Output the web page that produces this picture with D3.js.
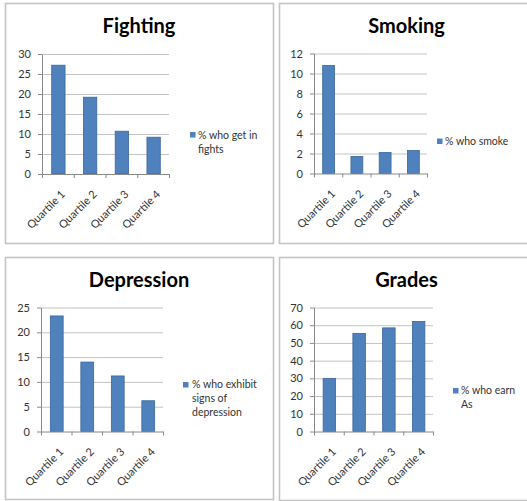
<!DOCTYPE html>
<html>
<head>
<meta charset="utf-8">
<script src="https://cdn.jsdelivr.net/npm/d3@7"></script>
<style>
  html, body { margin: 0; padding: 0; background: #fff; }
  svg { display: block; font-family: Lato, "Open Sans", sans-serif; }
</style>
</head>
<body>
<svg id="chart" width="527" height="501"></svg>
<script>
// Survey results by quartile
const quartiles = ["Quartile 1", "Quartile 2", "Quartile 3", "Quartile 4"];

const fightingValues   = [27.2, 19.2, 10.7, 9.2];
const smokingValues    = [10.8, 1.7, 2.1, 2.3];
const depressionValues = [23.3, 14.0, 11.2, 6.2];
const gradesValues     = [30.0, 55.4, 58.5, 62.1];

const fightingTicks   = [0, 5, 10, 15, 20, 25, 30];
const smokingTicks    = [0, 2, 4, 6, 8, 10, 12];
const depressionTicks = [0, 5, 10, 15, 20, 25];
const gradesTicks     = [0, 10, 20, 30, 40, 50, 60, 70];

const chartTitles = ["Fighting", "Smoking", "Depression", "Grades"];
const legendLines = [
  ["% who get in", "fights"],
  ["% who smoke"],
  ["% who exhibit", "signs of", "depression"],
  ["% who earn", "As"]
];

// Panel layout (frame, plot area, title and legend placement)
const panels = [
  { values: fightingValues, ticks: fightingTicks, title: chartTitles[0], legend: legendLines[0],
    frame: [5, 3, 273, 243], plot: { l: 42, r: 169, t: 54, b: 174 },
    titlePos: [139, 33], leg: { sx: 190, sy: 132, tx: 198, ty: 138.5 } },
  { values: smokingValues, ticks: smokingTicks, title: chartTitles[1], legend: legendLines[1],
    frame: [279, 3, 534, 243], plot: { l: 314, r: 427, t: 53.5, b: 173.5 },
    titlePos: [406.5, 33], leg: { sx: 437, sy: 138.5, tx: 445, ty: 145 } },
  { values: depressionValues, ticks: depressionTicks, title: chartTitles[2], legend: legendLines[2],
    frame: [5, 257, 273, 499], plot: { l: 41, r: 163, t: 307.5, b: 431.5 },
    titlePos: [139, 286.5], leg: { sx: 183, sy: 382, tx: 192, ty: 388 } },
  { values: gradesValues, ticks: gradesTicks, title: chartTitles[3], legend: legendLines[3],
    frame: [279, 257, 534, 500], plot: { l: 314, r: 433, t: 307.5, b: 431.5 },
    titlePos: [406.5, 286.5], leg: { sx: 453, sy: 388, tx: 461, ty: 394 } }
];

const barFill = "#4f81bd";
const barStroke = "#3a679b";
const gridColor = "#c3c3c3";
const axisColor = "#8a8a8a";
const textColor = "#333333";

const svg = d3.select("#chart");

panels.forEach(p => {
  const g = svg.append("g");
  const [fx0, fy0, fx1, fy1] = p.frame;

  // Chart frame
  g.append("rect")
    .attr("x", fx0 + 0.5).attr("y", fy0 + 0.5)
    .attr("width", fx1 - fx0).attr("height", fy1 - fy0)
    .attr("fill", "#fff")
    .attr("stroke", "#c4c4c4")
    .attr("stroke-width", 1.6);

  // Title
  g.append("text")
    .attr("x", p.titlePos[0]).attr("y", p.titlePos[1])
    .attr("text-anchor", "middle")
    .attr("font-size", 20).attr("font-weight", 700)
    .attr("fill", "#000")
    .text(p.title);

  const y = d3.scaleLinear()
    .domain([0, d3.max(p.ticks)])
    .range([p.plot.b, p.plot.t]);

  const x = d3.scaleBand()
    .domain(quartiles)
    .range([p.plot.l, p.plot.r])
    .paddingInner(0.58)
    .paddingOuter(0.29);

  const width = p.plot.r - p.plot.l;

  // Horizontal gridlines
  const grid = g.append("g")
    .attr("transform", `translate(${p.plot.l},0)`)
    .call(d3.axisLeft(y).tickValues(p.ticks.filter(t => t > 0)).tickSize(-width).tickFormat(""));
  grid.select(".domain").remove();
  grid.selectAll("line").attr("stroke", gridColor).attr("stroke-width", 1);

  // Value axis with labels
  const yAxis = g.append("g")
    .attr("transform", `translate(${p.plot.l},0)`)
    .call(d3.axisLeft(y).tickValues(p.ticks).tickSize(4).tickSizeOuter(0).tickPadding(7));
  yAxis.select(".domain").attr("stroke", axisColor);
  yAxis.selectAll("line").attr("stroke", axisColor);
  yAxis.selectAll("text")
    .attr("font-size", 11)
    .attr("font-family", "Lato, sans-serif")
    .attr("fill", textColor);

  // Bars
  g.append("g").selectAll("rect")
    .data(p.values)
    .join("rect")
    .attr("x", (d, i) => x(quartiles[i]) + 0.5)
    .attr("y", d => y(d))
    .attr("width", x.bandwidth())
    .attr("height", d => y(0) - y(d))
    .attr("fill", barFill)
    .attr("stroke", barStroke)
    .attr("stroke-width", 0.8);

  // Category axis: ticks at band boundaries
  const bounds = d3.scaleLinear().domain([0, quartiles.length]).range([p.plot.l, p.plot.r]);
  const xAxis = g.append("g")
    .attr("transform", `translate(0,${p.plot.b})`)
    .call(d3.axisBottom(bounds).tickValues(d3.range(quartiles.length + 1)).tickSize(4).tickSizeOuter(0).tickFormat(""));
  xAxis.select(".domain").attr("stroke", axisColor);
  xAxis.selectAll("line").attr("stroke", axisColor);

  // Rotated category labels
  g.append("g").selectAll("text")
    .data(quartiles)
    .join("text")
    .attr("transform", d => `translate(${x(d) + x.bandwidth() / 2 + 8},${p.plot.b + 21}) rotate(-45)`)
    .attr("text-anchor", "end")
    .attr("font-size", 11)
    .attr("fill", textColor)
    .text(d => d);

  // Legend
  g.append("rect")
    .attr("x", p.leg.sx).attr("y", p.leg.sy)
    .attr("width", 5.5).attr("height", 5.5)
    .attr("fill", barFill);
  g.append("text")
    .attr("x", p.leg.tx).attr("y", p.leg.ty)
    .attr("font-size", 10.5)
    .attr("fill", textColor)
    .selectAll("tspan")
    .data(p.legend)
    .join("tspan")
    .attr("x", p.leg.tx)
    .attr("dy", (d, i) => i === 0 ? 0 : 14)
    .text(d => d);
});
</script>
</body>
</html>
